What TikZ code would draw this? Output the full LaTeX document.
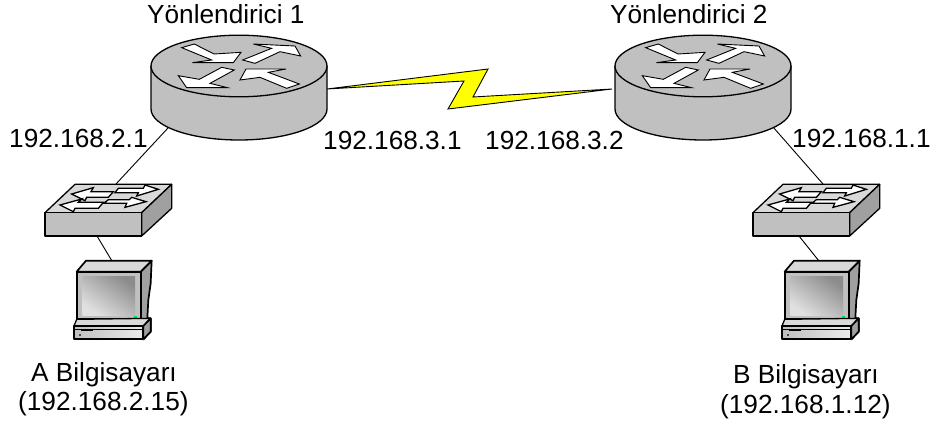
\documentclass[tikz,border=0pt]{standalone}
\usepackage{fontspec}
\setmainfont{Liberation Sans}
\definecolor{devgray}{HTML}{C0C0C0}
\definecolor{lightgray2}{HTML}{D9D9D9}
\definecolor{sidegray}{HTML}{A0A0A0}
\definecolor{boltyellow}{HTML}{FFFF00}
\definecolor{ledgreen}{HTML}{00E640}
\tikzset{
  lbl/.style={anchor=base west,inner sep=0pt,font=\fontsize{26.2}{30}\selectfont},
  link/.style={draw=black,line width=0.9pt},
  outline/.style={draw=black,line width=1.3pt,line join=round},
  heavy/.style={draw=black,line width=1.7pt,line join=round},
  arrowface/.style={fill=white,draw=black,line width=0.9pt,line join=miter},
  swarrow/.style={fill=white,draw=black,line width=1.3pt,line join=miter},
  zoomed/.style={x=0.33333pt,y=-0.33333pt},
  pics/router/.style={code={
    \path[outline,fill=devgray] (-88,0) -- (-88,43) arc[start angle=180,end angle=0,x radius=88,y radius=31] -- (88,0) -- cycle;
    \path[outline,fill=devgray] (0,0) ellipse[x radius=88,y radius=30.8];
    \begin{scope}[zoomed,xshift=-99pt,yshift=46pt]
      \path[arrowface] (125,83) -- (163,72) -- (222,102) -- (303,97) -- (280,128) -- (157,128) -- (215,120) -- cycle;
      \path[arrowface] (308,120) -- (345,130) -- (420,95) -- (482,108) -- (465,78) -- (340,72) -- (395,85) -- cycle;
      \path[arrowface] (283,150) -- (245,142) -- (178,178) -- (115,167) -- (140,203) -- (262,203) -- (210,190) -- cycle;
      \path[arrowface] (478,192) -- (440,205) -- (360,172) -- (300,180) -- (318,147) -- (438,147) -- (385,157) -- cycle;
    \end{scope}
  }},
  pics/switchbox/.style={code={
    \begin{scope}[zoomed]
      \path[outline,fill=lightgray2] (135,43) -- (425,43) -- (335,128) -- (45,128) -- cycle;
      \path[outline,fill=devgray] (45,128) rectangle (335,198);
      \path[outline,fill=sidegray] (335,128) -- (425,43) -- (425,115) -- (335,198) -- cycle;
      \path[swarrow] (125,72) -- (190,53) -- (183,65) -- (250,65) -- (235,82) -- (170,82) -- (165,92) -- cycle;
      \path[swarrow] (385,58) -- (345,45) -- (340,55) -- (265,55) -- (255,68) -- (325,68) -- (320,78) -- cycle;
      \path[swarrow] (348,95) -- (305,82) -- (298,89) -- (235,89) -- (222,100) -- (290,100) -- (285,112) -- cycle;
      \path[swarrow] (90,105) -- (155,87) -- (145,97) -- (220,97) -- (205,115) -- (135,115) -- (130,125) -- cycle;
    \end{scope}
  }},
  pics/computer/.style={code={
    \begin{scope}[zoomed]
      \path[heavy,fill=sidegray] (242,65) -- (275,32) -- (272,100) -- (265,150) -- (262,205) -- (272,205) -- (272,245) -- (250,268) -- (242,208) -- cycle;
      \path[heavy,fill=lightgray2] (50,65) -- (78,32) -- (275,32) -- (242,65) -- cycle;
      \path[heavy,fill=devgray] (50,65) rectangle (242,208);
      \shade[top color=black!45,bottom color=black!12,shading angle=-35] (68,78) rectangle (225,195);
      \fill[ledgreen] (222,197) rectangle (232,204);
      \path[outline,fill=devgray] (80,208) rectangle (103,218);
      \path[outline,fill=lightgray2] (50,208) -- (272,205) -- (250,228) -- (42,228) -- cycle;
      \path[heavy,fill=sidegray] (250,228) -- (272,205) -- (272,245) -- (250,268) -- cycle;
      \path[heavy,left color=black!25,right color=black!8] (42,228) rectangle (250,268);
      \fill[black] (62,237) rectangle (100,244);
      \draw[line width=0.7pt] (42,238) -- (250,238);
      \fill[black!70] (58,253) rectangle (62,258);
    \end{scope}
  }}
}
\begin{document}
\begin{tikzpicture}[x=1pt,y=-1pt]
\useasboundingbox (0,0) rectangle (935,428);
\fill[white] (0,0) rectangle (935,428);
% connector end points
\coordinate (r1sw) at (168,128);
\coordinate (s1up) at (116,184);
\coordinate (s1dn) at (97,236);
\coordinate (c1up) at (112,261);
\coordinate (r2se) at (773,127);
\coordinate (s2up) at (823,184);
\coordinate (s2dn) at (799,236);
\coordinate (c2up) at (819,261);
\coordinate (r1e) at (327,89);
\coordinate (r2w) at (612,89);
\coordinate (b1) at (488,69);
\coordinate (b2) at (473,97);
\coordinate (b3) at (448,109);
\coordinate (b4) at (464,81);
% connectors
\draw[link] (r1sw) -- (s1up);
\draw[link] (s1dn) -- (c1up);
\draw[link] (r2se) -- (s2up);
\draw[link] (s2dn) -- (c2up);
\draw[line width=0.9pt,fill=boltyellow,line join=miter] (r1e) -- (b1) -- (b2) -- (r2w) -- (b3) -- (b4) -- cycle;
% devices
\pic (r1) at (239,66) {router};
\pic (r2) at (703,66) {router};
\pic (s1) at (30,170) {switchbox};
\pic (s2) at (738,170) {switchbox};
\pic (c1) at (60,250) {computer};
\pic (c2) at (768,250) {computer};
% labels
\node[lbl] (t1) at (147,24) {Yönlendirici 1};
\node[lbl] (t2) at (610,24) {Yönlendirici 2};
\node[lbl] (ip21) at (9,147) {192.168.2.1};
\node[lbl] (ip31) at (323,149) {192.168.3.1};
\node[lbl] (ip32) at (485,149) {192.168.3.2};
\node[lbl] (ip11) at (792,147) {192.168.1.1};
\node[lbl] (na) at (31,381) {A Bilgisayarı};
\node[lbl] (aa) at (18,410) {(192.168.2.15)};
\node[lbl] (nb) at (733,383) {B Bilgisayarı};
\node[lbl] (ab) at (720,413) {(192.168.1.12)};
\end{tikzpicture}
\end{document}
